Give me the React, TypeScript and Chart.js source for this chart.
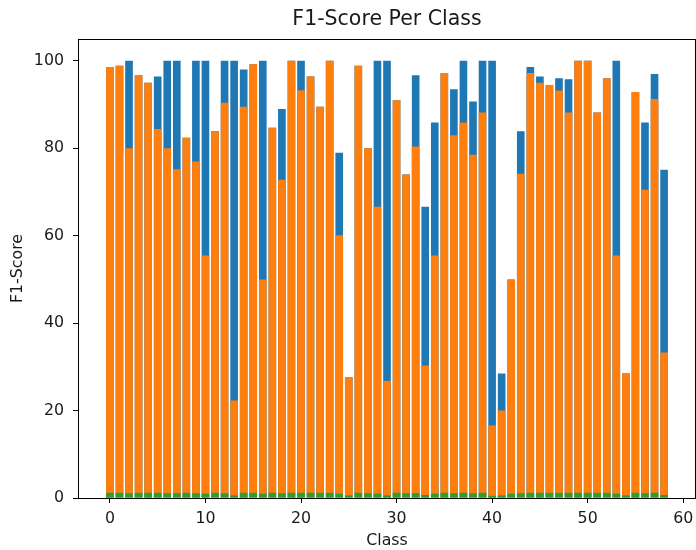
import React, { useEffect, useRef } from "react";
import { Chart, registerables } from "chart.js";

Chart.register(...registerables);

const classes: number[] = Array.from({ length: 59 }, (_, i) => i);

const blueValues: number[] = [
  98.6, 98.9, 100, 96.7, 95.0, 96.4, 100, 100, 82.4, 100,
  100, 83.9, 100, 100, 98.0, 99.2, 100, 84.7, 89.0, 100,
  100, 96.4, 89.5, 100, 79.0, 27.6, 98.9, 80.0, 100, 100,
  91.0, 74.0, 96.7, 66.6, 85.9, 97.2, 93.5, 100, 90.7, 100,
  100, 28.5, 50.0, 83.9, 98.6, 96.4, 94.4, 96.0, 95.8, 100,
  100, 88.2, 96.0, 100, 28.5, 92.9, 85.9, 97.0, 75.1,
];

const orangeValues: number[] = [
  98.6, 98.9, 80.0, 96.7, 95.0, 84.4, 80.0, 75.2, 82.4, 77.0,
  55.5, 83.9, 90.4, 22.3, 89.5, 99.2, 50.0, 84.7, 72.8, 100,
  93.3, 96.4, 89.5, 100, 60.1, 27.6, 98.9, 80.0, 66.6, 26.8,
  91.0, 74.0, 80.4, 30.3, 55.5, 97.2, 83.0, 85.9, 78.5, 88.2,
  16.6, 20.0, 50.0, 74.2, 97.2, 95.0, 94.4, 93.2, 88.2, 100,
  100, 88.2, 96.0, 55.5, 28.5, 92.9, 70.5, 91.3, 33.3,
];

const greenValues: number[] = [
  1.2, 1.2, 1.1, 1.2, 1.2, 1.2, 1.1, 1.1, 1.2, 1.1,
  1.0, 1.2, 1.1, 0.6, 1.2, 1.2, 1.0, 1.2, 1.1, 1.2,
  1.2, 1.2, 1.2, 1.2, 1.0, 0.6, 1.2, 1.1, 1.0, 0.6,
  1.2, 1.1, 1.1, 0.7, 1.0, 1.2, 1.1, 1.2, 1.1, 1.2,
  0.5, 0.6, 1.0, 1.1, 1.2, 1.2, 1.2, 1.2, 1.2, 1.2,
  1.2, 1.2, 1.2, 1.0, 0.6, 1.2, 1.1, 1.2, 0.7,
];

const yTicks: number[] = [0, 20, 40, 60, 80, 100];
const xTicks: number[] = [0, 10, 20, 30, 40, 50, 60];

const FONT = "'DejaVu Sans', sans-serif";
const TEXT = "#1a1a1a";

const toPoints = (vals: number[]) => classes.map((c, i) => ({ x: c, y: vals[i] }));

const spinePlugin = {
  id: "spines",
  afterDraw(chart: any) {
    const { ctx, chartArea } = chart;
    ctx.save();
    ctx.strokeStyle = "#000";
    ctx.lineWidth = 1;
    ctx.beginPath();
    ctx.moveTo(chartArea.left, Math.round(chartArea.top) + 0.5);
    ctx.lineTo(chartArea.right, Math.round(chartArea.top) + 0.5);
    ctx.moveTo(chartArea.right - 0.5, chartArea.top);
    ctx.lineTo(chartArea.right - 0.5, chartArea.bottom);
    ctx.stroke();
    ctx.restore();
  },
};

export default function App() {
  const ref = useRef<HTMLCanvasElement | null>(null);

  useEffect(() => {
    if (!ref.current) return;
    const chart = new Chart(ref.current, {
      type: "bar",
      data: {
        datasets: [
          {
            label: "green",
            data: toPoints(greenValues),
            backgroundColor: "#2ca02c",
            grouped: false,
            order: 0,
            barPercentage: 0.8,
            categoryPercentage: 1,
          } as any,
          {
            label: "orange",
            data: toPoints(orangeValues),
            backgroundColor: "#ff7f0e",
            grouped: false,
            order: 1,
            barPercentage: 0.8,
            categoryPercentage: 1,
          } as any,
          {
            label: "blue",
            data: toPoints(blueValues),
            backgroundColor: "#1f77b4",
            grouped: false,
            order: 2,
            barPercentage: 0.8,
            categoryPercentage: 1,
          } as any,
        ],
      },
      options: {
        responsive: false,
        animation: false,
        layout: { padding: { left: 0, right: 0, top: 0, bottom: 0 } },
        plugins: {
          legend: { display: false },
          tooltip: { enabled: false },
          title: {
            display: true,
            fullSize: false,
            text: "F1-Score Per Class",
            color: TEXT,
            font: { family: FONT, size: 20.5, weight: "normal", lineHeight: 1.2 },
            padding: { top: 7, bottom: 7.4 },
          },
        },
        scales: {
          x: {
            type: "linear",
            offset: false,
            min: -3.34,
            max: 61.34,
            afterFit: (s: any) => {
              s.height = 52;
              s.paddingLeft = 0;
              s.paddingRight = 0;
            },
            afterBuildTicks: (s: any) => {
              s.ticks = xTicks.map((v) => ({ value: v }));
            },
            ticks: {
              stepSize: 10,
              includeBounds: false,
              color: TEXT,
              font: { family: FONT, size: 15.8 },
              padding: 6,
              maxRotation: 0,
            },
            grid: {
              offset: false,
              drawOnChartArea: false,
              drawTicks: true,
              tickLength: 5,
              color: "#000",
            },
            border: { display: true, color: "#000", width: 1 },
            title: {
              display: true,
              text: "Class",
              color: TEXT,
              font: { family: FONT, size: 15.8 },
              padding: { top: 0, bottom: 0 },
            },
          },
          y: {
            type: "linear",
            min: 0,
            max: 105,
            afterFit: (s: any) => {
              s.width = 78;
            },
            afterBuildTicks: (s: any) => {
              s.ticks = yTicks.map((v) => ({ value: v }));
            },
            ticks: {
              stepSize: 20,
              includeBounds: false,
              color: TEXT,
              font: { family: FONT, size: 15.8 },
              padding: 9,
            },
            grid: {
              drawOnChartArea: false,
              drawTicks: true,
              tickLength: 5,
              color: "#000",
            },
            border: { display: true, color: "#000", width: 1 },
            title: {
              display: true,
              text: "F1-Score",
              color: TEXT,
              font: { family: FONT, size: 15.8 },
              padding: { top: 8, bottom: 0 },
            },
          },
        },
      },
      plugins: [spinePlugin],
    } as any);
    return () => chart.destroy();
  }, []);

  return (
    <div style={{ position: "fixed", left: 0, top: 0, width: 696, height: 550, background: "#fff" }}>
      <canvas ref={ref} width={696} height={550} style={{ display: "block" }} />
    </div>
  );
}
